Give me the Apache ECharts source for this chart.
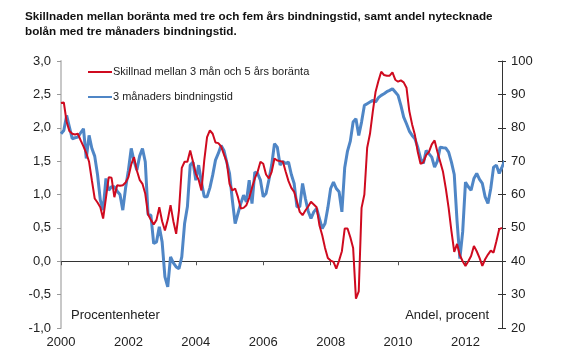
<!DOCTYPE html>
<html>
<head>
<meta charset="utf-8">
<script src="https://cdn.jsdelivr.net/npm/echarts@6/dist/echarts.min.js"></script>
<style>
html,body{margin:0;padding:0;background:#fff;}
#chart{width:580px;height:364px;}
</style>
</head>
<body>
<div id="chart"></div>
<script>
// Monthly observations, Jan 2000 .. Feb 2013
var startYear = 2000;
var monthCount = 158;

// Skillnad mellan 3 mån och 5 års boränta (procentenheter, left axis)
var spread = [
  2.37, 2.38, 2.09, 1.95, 1.91, 1.90, 1.91, 1.81, 1.72, 1.62, 1.49, 1.21,
  0.94, 0.88, 0.81, 0.64, 0.95, 1.26, 1.25, 0.96, 1.14, 1.13, 1.14, 1.18,
  1.26, 1.45, 1.56, 1.36, 1.22, 1.16, 1.01, 0.70, 0.62, 0.55, 0.62, 0.81,
  0.60, 0.46, 0.62, 0.84, 0.60, 0.41, 0.76, 1.40, 1.49, 1.49, 1.66, 1.49,
  1.31, 1.22, 1.06, 1.51, 1.86, 1.96, 1.91, 1.78, 1.77, 1.72, 1.60, 1.49,
  1.16, 1.06, 1.09, 0.96, 0.79, 0.80, 0.84, 0.95, 1.10, 1.24, 1.34, 1.49,
  1.46, 1.30, 1.24, 1.34, 1.54, 1.51, 1.50, 1.49, 1.34, 1.20, 1.10, 1.04,
  0.89, 0.74, 0.69, 0.76, 0.82, 0.89, 0.85, 0.81, 0.54, 0.39, 0.20, 0.05,
  0.01, -0.01, -0.11, 0.01, 0.15, 0.49, 0.49, 0.36, 0.20, -0.56, -0.45, 0.80,
  1.00, 1.70, 1.91, 2.24, 2.54, 2.70, 2.84, 2.79, 2.78, 2.78, 2.83, 2.72,
  2.69, 2.71, 2.68, 2.60, 2.25, 2.05, 1.89, 1.64, 1.46, 1.48, 1.59, 1.64,
  1.75, 1.81, 1.64, 1.49, 1.34, 1.09, 0.80, 0.45, 0.14, 0.26, 0.09, 0.00,
  -0.07, 0.00, 0.08, 0.23, 0.15, 0.05, -0.07, 0.03, 0.10, 0.16, 0.13, 0.30,
  0.48, 0.50
];

// 3 månaders bindningstid (andel, procent, right axis)
var share3m = [
  78.2, 79.2, 83.7, 80.2, 76.7, 77.0, 77.2, 78.5, 79.7, 70.8, 77.7, 73.8,
  71.5, 66.0, 58.3, 55.3, 64.8, 61.3, 62.3, 62.3, 61.0, 60.0, 55.3, 62.0,
  67.3, 73.8, 70.0, 67.3, 71.5, 73.8, 69.8, 54.0, 53.8, 45.3, 45.8, 50.3,
  45.8, 35.3, 32.3, 41.3, 39.5, 38.3, 37.8, 41.3, 51.3, 56.3, 68.8, 69.7,
  64.3, 68.8, 63.7, 59.3, 59.3, 62.0, 65.8, 70.3, 72.3, 74.7, 73.2, 69.7,
  66.3, 58.3, 51.3, 54.3, 57.3, 59.8, 57.8, 64.3, 57.3, 66.7, 66.3, 64.3,
  59.3, 60.3, 64.3, 68.8, 75.2, 74.2, 68.8, 69.9, 69.3, 69.7, 66.0, 63.3,
  56.3, 56.3, 63.3, 58.8, 55.0, 52.8, 54.8, 55.8, 52.8, 49.8, 51.3, 56.0,
  61.8, 63.7, 61.8, 60.8, 54.8, 68.0, 73.0, 76.0, 81.7, 82.7, 77.7, 81.7,
  86.7, 87.2, 87.7, 88.2, 87.7, 89.0, 89.7, 90.2, 90.8, 91.2, 91.7, 90.7,
  89.7, 86.7, 83.2, 81.2, 79.0, 77.7, 76.7, 74.2, 70.8, 69.3, 73.2, 72.2,
  71.2, 68.2, 70.0, 74.2, 74.0, 73.9, 72.7, 69.7, 66.0, 52.0, 40.8, 48.8,
  63.7, 62.3, 61.3, 64.8, 66.3, 64.5, 63.3, 59.3, 57.3, 61.8, 68.2, 68.8,
  66.3, 68.2, 70.2
];

var yearLabels = ['2000', '2002', '2004', '2006', '2008', '2010', '2012'];
var leftTicks = [-1.0, -0.5, 0.0, 0.5, 1.0, 1.5, 2.0, 2.5, 3.0];
var rightTicks = [20, 30, 40, 50, 60, 70, 80, 90, 100];

var seriesNames = ['Skillnad mellan 3 mån och 5 års boränta', '3 månaders bindningstid'];
var titleLines = ['Skillnaden mellan boränta med tre och fem års bindningstid, samt andel nytecknade',
                  'bolån med tre månaders bindningstid.'];

// category labels YYYY-MM
var months = [];
for (var i = 0; i < monthCount; i++) {
  var y = startYear + Math.floor(i / 12);
  var m = (i % 12) + 1;
  months.push(y + '-' + (m < 10 ? '0' + m : m));
}
function isYearTick(idx, val) {
  return val.slice(5) === '01' && yearLabels.indexOf(val.slice(0, 4)) >= 0;
}

var FONT = '"Liberation Sans", Arial, sans-serif';
var chart = echarts.init(document.getElementById('chart'), null, {renderer: 'canvas'});
chart.setOption({
  animation: false,
  backgroundColor: '#ffffff',
  title: {
    text: titleLines.join('\n'),
    left: 25, top: 9, padding: 0,
    textStyle: {fontFamily: FONT, fontSize: 11.7, fontWeight: 'bold', color: '#111', lineHeight: 15}
  },
  legend: {
    orient: 'vertical',
    left: 88, top: 65, padding: 0,
    itemWidth: 24, itemHeight: 2,
    itemGap: 11,
    icon: 'rect',
    textStyle: {fontFamily: FONT, fontSize: 11, color: '#222', lineHeight: 14, padding: [0, 0, 0, -4]},
    data: seriesNames
  },
  grid: {left: 61, right: 78, top: 61, bottom: 36},
  xAxis: {
    type: 'category',
    data: months,
    boundaryGap: false,
    axisLine: {lineStyle: {color: '#333', width: 1}},
    axisTick: {show: true, interval: isYearTick, length: 4, lineStyle: {color: '#555'}},
    axisLabel: {
      interval: isYearTick,
      formatter: function (v) { return v.slice(0, 4); },
      fontFamily: FONT, fontSize: 13, color: '#222', margin: 8
    },
    splitLine: {show: false}
  },
  yAxis: [
    {
      type: 'value', position: 'left',
      min: leftTicks[0], max: leftTicks[leftTicks.length - 1], interval: 0.5,
      axisLine: {show: true, lineStyle: {color: '#c8c8c8', width: 2}},
      axisTick: {show: true, length: 4, lineStyle: {color: '#999'}},
      axisLabel: {
        formatter: function (v) { return v.toFixed(1).replace('.', ','); },
        fontFamily: FONT, fontSize: 13, color: '#222', margin: 10
      },
      splitLine: {show: false}
    },
    {
      type: 'value', position: 'right',
      min: rightTicks[0], max: rightTicks[rightTicks.length - 1], interval: 10,
      axisLine: {show: true, lineStyle: {color: '#333', width: 1}},
      axisTick: {show: true, length: 4, lineStyle: {color: '#333'}},
      axisLabel: {fontFamily: FONT, fontSize: 13, color: '#222', margin: 9},
      splitLine: {show: false}
    },
    {
      type: 'value', position: 'right',
      min: rightTicks[0], max: rightTicks[rightTicks.length - 1], interval: 10,
      axisLine: {show: false},
      axisTick: {show: true, inside: true, length: 4, lineStyle: {color: '#333'}},
      axisLabel: {show: false},
      splitLine: {show: false}
    }
  ],
  series: [
    {
      name: seriesNames[0], type: 'line', yAxisIndex: 0,
      data: spread, showSymbol: false, symbol: 'none',
      lineStyle: {color: '#cf0a1f', width: 2},
      itemStyle: {color: '#cf0a1f'},
      z: 3
    },
    {
      name: seriesNames[1], type: 'line', yAxisIndex: 1,
      data: share3m, showSymbol: false, symbol: 'none',
      lineStyle: {color: '#4f86c6', width: 3},
      itemStyle: {color: '#4f86c6'},
      z: 2
    }
  ],
  graphic: [
    {type: 'text', left: 71, top: 309, style: {text: 'Procentenheter', font: '13px ' + FONT, fill: '#222'}},
    {type: 'text', right: 91, top: 309, style: {text: 'Andel, procent', font: '13px ' + FONT, fill: '#222'}}
  ]
});
</script>
</body>
</html>
